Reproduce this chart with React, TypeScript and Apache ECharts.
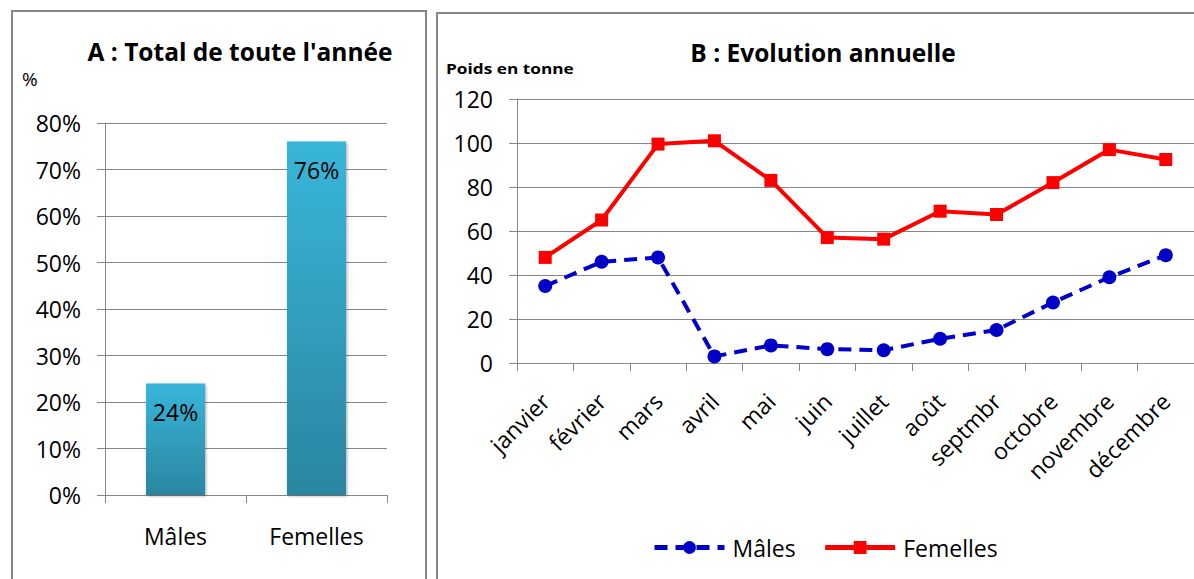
import React, { useEffect, useRef } from "react";
import * as echarts from "echarts";

const barCategories = ["Mâles", "Femelles"];
const barValues = [24, 76];
const barTicks = [0, 10, 20, 30, 40, 50, 60, 70, 80];

const months = ["janvier", "février", "mars", "avril", "mai", "juin", "juillet", "août", "septmbr", "octobre", "novembre", "décembre"];
const males = [35, 46, 48, 3, 8, 6.3, 5.8, 11, 15, 27.5, 39, 49];
const femelles = [48, 65, 99.5, 101, 83, 57, 56.3, 69, 67.5, 82, 97, 92.5];

const titleA = "A : Total de toute l'année";
const titleB = "B : Evolution annuelle";
const unitB = "Poids en tonne";

const FONT = '"Open Sans", Lato, sans-serif';
const GRAY = "#868686";
const FS = 23;

export default function App() {
  const ref = useRef<HTMLDivElement>(null);
  useEffect(() => {
    if (!ref.current) return;
    const chart = echarts.init(ref.current, undefined, { renderer: "svg" });
    chart.setOption({
      animation: false,
      backgroundColor: "#ffffff",
      textStyle: { fontFamily: FONT },
      graphic: [
        { type: "rect", shape: { x: 12, y: 11, width: 414, height: 620 }, style: { fill: "none", stroke: GRAY, lineWidth: 2 } },
        { type: "rect", shape: { x: 437, y: 13, width: 800, height: 620 }, style: { fill: "none", stroke: GRAY, lineWidth: 2 } },
        { type: "text", x: 240, y: 51, style: { text: titleA, fontFamily: FONT, fontSize: 24.5, fontWeight: "bold", fill: "#000", textAlign: "center", textVerticalAlign: "middle" } },
        { type: "text", x: 22, y: 79, style: { text: "%", fontFamily: FONT, fontSize: 19, fill: "#000", textAlign: "left", textVerticalAlign: "middle" } },
        { type: "text", x: 823, y: 52, style: { text: titleB, fontFamily: FONT, fontSize: 24.5, fontWeight: "bold", fill: "#000", textAlign: "center", textVerticalAlign: "middle" } },
        { type: "text", x: 446, y: 68, scaleX: 1.15, style: { text: unitB, fontFamily: FONT, fontSize: 15, fontWeight: "bold", fill: "#000", textAlign: "left", textVerticalAlign: "middle" } },
      ],
      legend: {
        data: ["Mâles", "Femelles"],
        left: 647,
        top: 531,
        itemWidth: 70,
        itemHeight: 16,
        itemGap: 27,
        lineStyle: { width: 5 },
        textStyle: { fontFamily: FONT, fontSize: FS, color: "#000", padding: [0, 0, 0, 3] },
      },
      grid: [
        { left: 105, top: 123, width: 282, height: 372 },
        { left: 517, top: 99, width: 682, height: 264 },
      ],
      xAxis: [
        {
          gridIndex: 0,
          type: "category",
          data: barCategories,
          axisLine: { lineStyle: { color: GRAY, width: 1 } },
          axisTick: { show: true, length: 8, lineStyle: { color: GRAY } },
          axisLabel: { fontFamily: FONT, fontSize: FS, color: "#000", margin: 29 },
        },
        {
          gridIndex: 1,
          type: "category",
          data: months,
          axisLine: { lineStyle: { color: GRAY, width: 1 } },
          axisTick: { show: true, length: 8, lineStyle: { color: GRAY } },
          axisLabel: { fontFamily: FONT, fontSize: FS, color: "#000", rotate: 45, margin: 34, interval: 0 },
        },
      ],
      yAxis: [
        {
          gridIndex: 0,
          type: "value",
          min: barTicks[0],
          max: barTicks[barTicks.length - 1],
          interval: 10,
          axisLine: { show: true, lineStyle: { color: GRAY, width: 1 } },
          axisTick: { show: true, length: 8, lineStyle: { color: GRAY } },
          splitLine: { show: true, lineStyle: { color: GRAY, width: 1 } },
          axisLabel: { fontFamily: FONT, fontSize: FS, color: "#000", margin: 24, formatter: "{value}%" },
        },
        {
          gridIndex: 1,
          type: "value",
          min: 0,
          max: 120,
          interval: 20,
          axisLine: { show: true, lineStyle: { color: GRAY, width: 1 } },
          axisTick: { show: true, length: 8, lineStyle: { color: GRAY } },
          splitLine: { show: true, lineStyle: { color: GRAY, width: 1 } },
          axisLabel: { fontFamily: FONT, fontSize: FS, color: "#000", margin: 24 },
        },
      ],
      series: [
        {
          name: "Total",
          type: "bar",
          xAxisIndex: 0,
          yAxisIndex: 0,
          data: barValues,
          barWidth: 59,
          itemStyle: {
            color: new echarts.graphic.LinearGradient(0, 0, 0, 1, [
              { offset: 0, color: "#38b6da" },
              { offset: 1, color: "#2a86a0" },
            ]),
            shadowColor: "rgba(0,0,0,0.35)",
            shadowBlur: 3,
            shadowOffsetX: 1,
            shadowOffsetY: 1,
          },
          label: {
            show: true,
            position: "insideTop",
            distance: 17,
            formatter: "{c}%",
            fontFamily: FONT,
            fontSize: FS,
            color: "#000",
          },
        },
        {
          name: "Mâles",
          type: "line",
          xAxisIndex: 1,
          yAxisIndex: 1,
          data: males,
          symbol: "circle",
          symbolSize: 14,
          color: "#0000c8",
          lineStyle: { color: "#0000c8", width: 4, type: [13, 8] },
          itemStyle: { color: "#0000c8" },
        },
        {
          name: "Femelles",
          type: "line",
          xAxisIndex: 1,
          yAxisIndex: 1,
          data: femelles,
          symbol: "rect",
          symbolSize: 13,
          color: "#ff0000",
          lineStyle: { color: "#ff0000", width: 4 },
          itemStyle: { color: "#ff0000" },
        },
      ],
    });
    return () => chart.dispose();
  }, []);
  return <div ref={ref} style={{ position: "absolute", left: 0, top: 0, width: 1194, height: 579 }} />;
}
